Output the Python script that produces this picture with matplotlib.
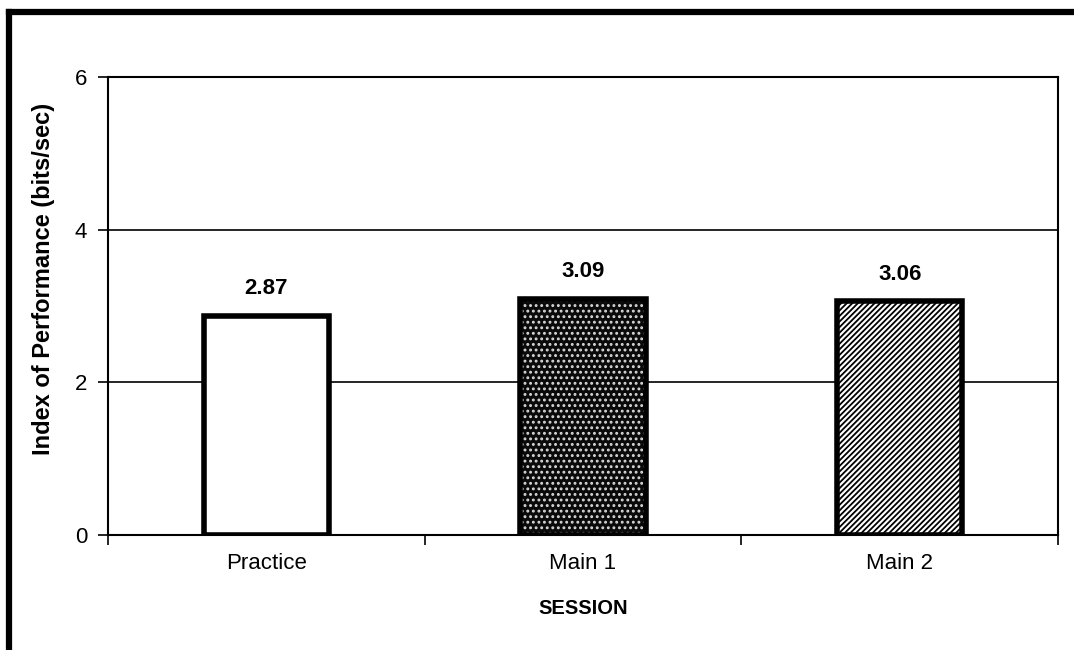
import matplotlib
matplotlib.use('Agg')
import matplotlib.pyplot as plt
from matplotlib.lines import Line2D

# data
sessions = ['Practice', 'Main 1', 'Main 2']
iop = [2.87, 3.09, 3.06]
labels = ['2.87', '3.09', '3.06']
yticks = [0, 2, 4, 6]

plt.rcParams['font.family'] = ['Liberation Sans', 'DejaVu Sans']
plt.rcParams['hatch.linewidth'] = 1.3

W, H = 1074, 650
fig = plt.figure(figsize=(W / 100, H / 100), dpi=100)
ax = fig.add_axes([108 / W, 1 - 535 / H, (1058 - 108) / W, (535 - 77) / H])

x = list(range(len(sessions)))
bw = 0.395

# gridlines behind bars
for g in [2, 4]:
    ax.axhline(g, color='black', lw=1.2, zorder=0)

# Practice: plain white
ax.bar(x[0], iop[0], bw, facecolor='white', edgecolor='black', lw=4, zorder=3)

# Main 1: dark speckled fill
ax.bar(x[1], iop[1], bw, facecolor='#0a0a0a', edgecolor='none', zorder=2)
ax.bar(x[1], iop[1], bw, facecolor='none', edgecolor='#d8d8d8', hatch='...', lw=0, zorder=2.5)
ax.bar(x[1], iop[1], bw, facecolor='none', edgecolor='black', lw=4, zorder=3)

# Main 2: dense diagonal hatch
ax.bar(x[2], iop[2], bw, facecolor='white', edgecolor='black', hatch='//////', lw=4, zorder=3)

for xi, v, s in zip(x, iop, labels):
    ax.text(xi, v + 0.22, s, ha='center', va='bottom', fontsize=16, fontweight='bold')

ax.set_xlim(-0.5, 2.5)
ax.set_ylim(0, 6)
ax.set_yticks(yticks)
ax.set_yticklabels([str(t) for t in yticks], fontsize=16)
ax.set_xticks([-0.5, 0.5, 1.5, 2.5])
ax.set_xticklabels([])
ax.set_xticks(x, minor=True)
ax.set_xticklabels(sessions, minor=True, fontsize=16)
ax.tick_params(axis='x', which='major', direction='out', length=7, width=1.2)
ax.tick_params(axis='x', which='minor', length=0, pad=13)
ax.tick_params(axis='y', direction='out', length=7, width=1.2, pad=8)

for sp in ax.spines.values():
    sp.set_linewidth(1.5)
    sp.set_color('black')

ax.set_xlabel('SESSION', fontsize=14.5, fontweight='bold', labelpad=18)
ax.set_ylabel('Index of Performance (bits/sec)', fontsize=17, fontweight='bold')
ax.yaxis.set_label_coords(-0.056, 0.56)

# outer chart frame (left and top edges visible)
fig.add_artist(Line2D([9 / W, 9 / W], [0, 1 - 12 / H], transform=fig.transFigure, color='black', lw=4.5))
fig.add_artist(Line2D([9 / W, 1], [1 - 12 / H, 1 - 12 / H], transform=fig.transFigure, color='black', lw=4.5))

fig.savefig('out.png', dpi=100)
